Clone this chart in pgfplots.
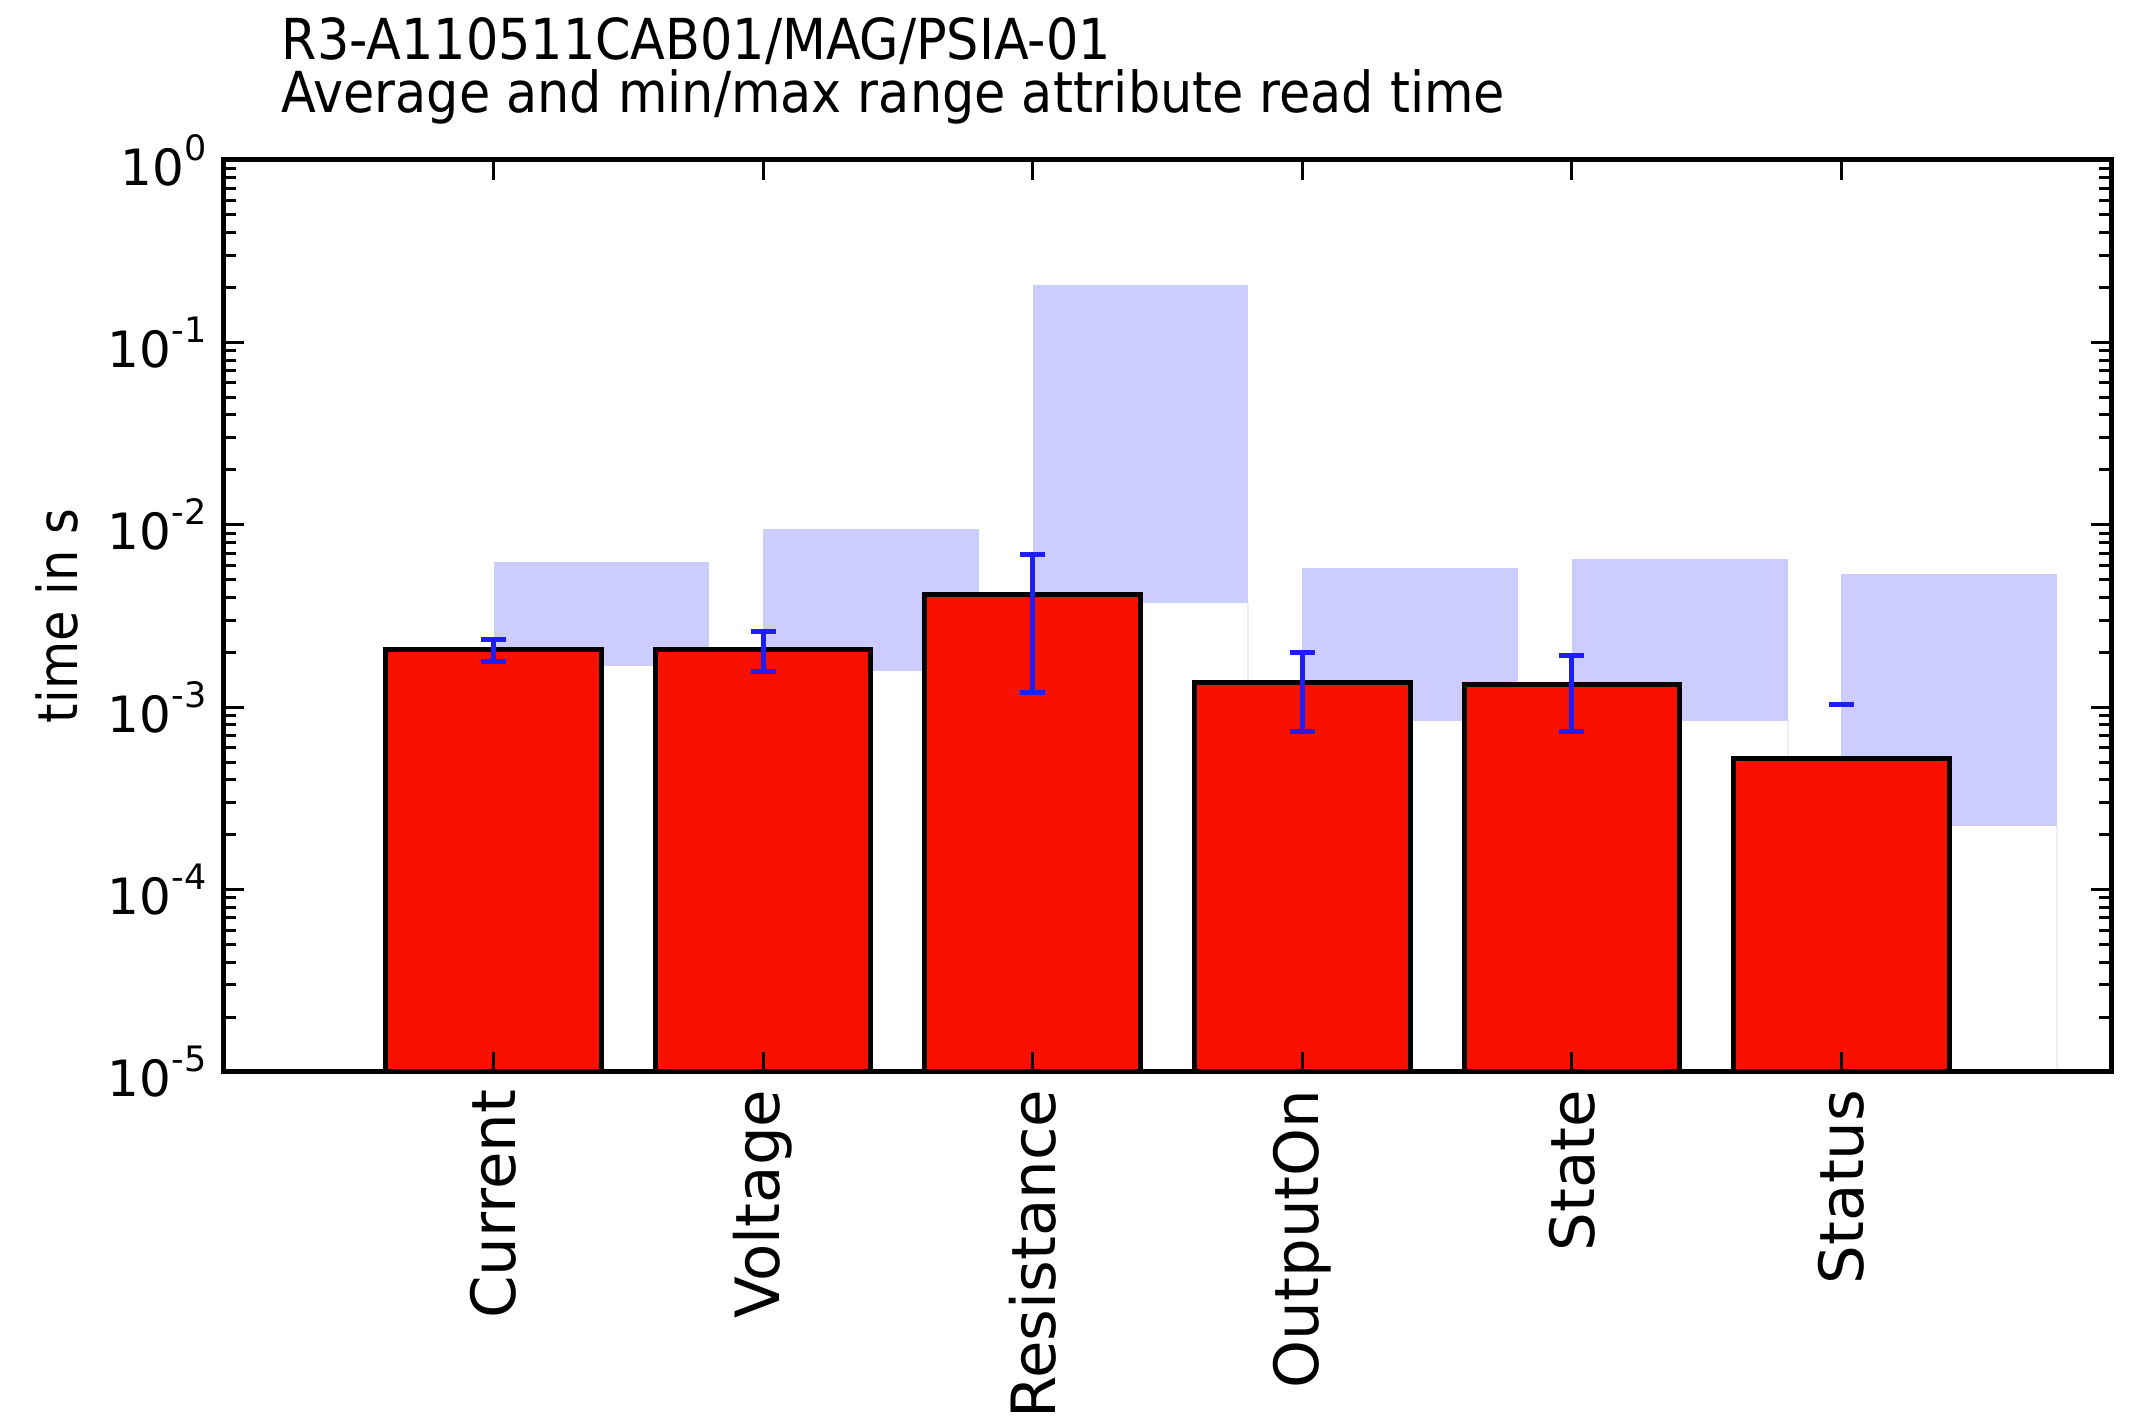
\documentclass[border=0pt]{standalone}
\usepackage{fontspec}
\setmainfont{DejaVu Sans}
\newfontfamily\condfont{DejaVu Sans Condensed}
\usepackage{pgfplots}
\pgfplotsset{compat=1.18}
\definecolor{barred}{RGB}{248,16,0}
\definecolor{rangeblue}{RGB}{204,204,255}
\definecolor{faintblue}{RGB}{238,238,255}
\definecolor{errblue}{RGB}{30,30,245}
\begin{document}
\begin{tikzpicture}
\begin{axis}[
  scale only axis, width=377.4pt, height=182.4pt,
  ymode=log, ymin=1e-5, ymax=1, log origin=infty,
  xmin=-1, xmax=6,
  xtick={0,1,2,3,4,5},
  xticklabels={Current,Voltage,Resistance,OutputOn,State,Status},
  xticklabel style={rotate=90, anchor=east, font=\fontsize{12.2}{14}\selectfont},
  yticklabel={\pgfmathtruncatemacro\myexp{round(\tick/ln(10))}10\raisebox{0.5em}{\fontsize{7}{8}\selectfont\myexp}},
  yticklabel style={font=\fontsize{10}{12}\selectfont},
  tick pos=both, tick align=inside,
  major tick length=4pt, minor tick length=2.4pt,
  axis line style={line width=1pt},
  every tick/.style={black, line width=0.6pt},
  ylabel={time in s},
  ylabel style={at={(axis description cs:-0.0885,0.5)}, anchor=center, font=\condfont\fontsize{11}{13}\selectfont},
  axis on top,
  clip=false,
]
% faint edges below the ranges
\addplot[faintblue, line width=0.4pt] coordinates {(2.8,1e-5) (2.8,3.72e-3)};
\addplot[faintblue, line width=0.4pt] coordinates {(4.8,1e-5) (4.8,8.37e-4)};
\addplot[faintblue, line width=0.4pt] coordinates {(5.8,1e-5) (5.8,2.24e-4)};
% min/max ranges
\addplot[draw=none, fill=rangeblue] coordinates {(0,1.675e-3) (0.8,1.675e-3) (0.8,6.25e-3) (0,6.25e-3)} -- cycle;
\addplot[draw=none, fill=rangeblue] coordinates {(1,1.573e-3) (1.8,1.573e-3) (1.8,9.48e-3) (1,9.48e-3)} -- cycle;
\addplot[draw=none, fill=rangeblue] coordinates {(2,3.72e-3) (2.8,3.72e-3) (2.8,0.2056) (2,0.2056)} -- cycle;
\addplot[draw=none, fill=rangeblue] coordinates {(3,8.37e-4) (3.8,8.37e-4) (3.8,5.79e-3) (3,5.79e-3)} -- cycle;
\addplot[draw=none, fill=rangeblue] coordinates {(4,8.37e-4) (4.8,8.37e-4) (4.8,6.49e-3) (4,6.49e-3)} -- cycle;
\addplot[draw=none, fill=rangeblue] coordinates {(5,2.24e-4) (5.8,2.24e-4) (5.8,5.39e-3) (5,5.39e-3)} -- cycle;
% average bars
\addplot[ybar, bar width=0.8, bar shift=0pt, fill=barred, draw=black, line width=1pt]
  coordinates {(0,2.065e-3) (1,2.065e-3) (2,4.14e-3) (3,1.368e-3) (4,1.33e-3) (5,5.20e-4)};
% error bars (mean +- std)
\addplot[errblue, line width=1pt, mark=-, mark size=2.5pt] coordinates {(0,1.77e-3) (0,2.345e-3)};
\addplot[errblue, line width=1pt, mark=-, mark size=2.5pt] coordinates {(1,1.573e-3) (1,2.61e-3)};
\addplot[errblue, line width=1pt, mark=-, mark size=2.5pt] coordinates {(2,1.205e-3) (2,6.86e-3)};
\addplot[errblue, line width=1pt, mark=-, mark size=2.5pt] coordinates {(3,7.36e-4) (3,2.0e-3)};
\addplot[errblue, line width=1pt, mark=-, mark size=2.5pt] coordinates {(4,7.36e-4) (4,1.93e-3)};
\addplot[only marks, mark=-, mark size=2.5pt, mark options={draw=errblue, line width=1pt}] coordinates {(5,1.04e-3)};
% title
\node[anchor=base west, inner sep=0pt, font=\condfont\fontsize{11.3}{13}\selectfont] at (rel axis cs:0.0302,1.1096) {R3-A110511CAB01/MAG/PSIA-01};
\node[anchor=base west, inner sep=0pt, font=\condfont\fontsize{11.3}{13}\selectfont] at (rel axis cs:0.0302,1.0515) {Average and min/max range attribute read time};
\coordinate (bbA) at (rel axis cs:-0.1187,1.1754);
\coordinate (bbB) at (rel axis cs:1.0106,-0.3893);
\end{axis}
\pgfresetboundingbox
\useasboundingbox (bbA) rectangle (bbB);
\end{tikzpicture}
\end{document}
